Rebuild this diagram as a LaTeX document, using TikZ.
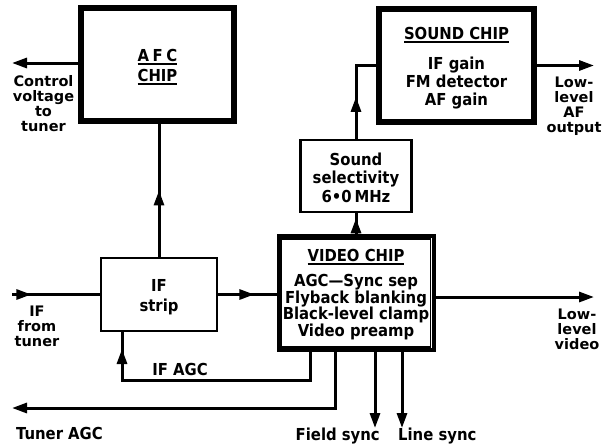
\documentclass[tikz,border=0pt]{standalone}
\usepackage{fontspec}
\setmainfont{DejaVu Sans Condensed}
\newfontfamily\widefont{DejaVu Sans}
\usetikzlibrary{arrows.meta,decorations.markings,calc}
\newcommand{\ulx}[1]{\leavevmode\setbox0=\hbox{#1}\rlap{\rule[-3.8pt]{\wd0}{1.8pt}}\box0}
\newcommand{\pushdn}[1]{\rule{0pt}{#1}}
\begin{document}
\begin{tikzpicture}[x=1pt,y=-1pt,
  font=\bfseries\fontsize{16.5}{18}\selectfont,
  conn/.style={line width=3pt},
  tip/.style={-{Triangle[length=15pt,width=10pt]}},
  midarr/.style={postaction={decorate},decoration={markings,mark=at position #1 with {\arrow{Triangle[length=15pt,width=10pt]}}}},
  plainbox/.style={draw,line width=2.2pt,align=center,inner sep=0pt},
  chip/.style={draw,line width=4pt,align=center,inner sep=0pt},
  lbl/.style={align=center,inner sep=0pt},
  tight/.style={font=\widefont\bfseries\fontsize{14.5}{15}\selectfont}
]
\useasboundingbox[fill=white] (0,0) rectangle (610,445);

% blocks
\node[chip,minimum width=155pt,minimum height=115pt] (afc) at (157.5,64.5)
  {\pushdn{17pt}\ulx{A\kern3.5pt F\kern3.5pt C}\\[2pt]\ulx{CHIP}};
\node[chip,minimum width=157pt,minimum height=115pt] (sound) at (456.5,65.5)
  {\pushdn{17.5pt}\ulx{SOUND CHIP}\\[12pt]IF gain\\FM detector\\AF gain};
\node[chip,minimum width=155pt,minimum height=114pt] (video) at (356,293)
  {\pushdn{15.5pt}\ulx{VIDEO CHIP}\\[7pt]AGC—Sync sep\\[-1.3pt]Flyback blanking\\[-1.3pt]Black-level clamp\\[-1.3pt]Video preamp};
\node[plainbox,minimum width=116pt,minimum height=73pt] (ifstrip) at (159,294.5)
  {\pushdn{17pt}IF\\[2pt]strip};
\node[plainbox,minimum width=111pt,minimum height=72pt] (soundsel) at (356,176)
  {\pushdn{16pt}Sound\\[0.5pt]selectivity\\[0.5pt]6•0\,MHz};

\foreach \n in {afc,sound,video}
  \draw[line width=1.1pt] ($(\n.south west)+(5,-5)$) rectangle ($(\n.north east)+(-5,5)$);

% labels
\node[lbl,tight] (ctrltxt) at (43.5,104) {Control\\voltage\\to\\tuner};
\node[lbl,tight] (iftxt) at (37,326) {IF\\from\\tuner};
\node[lbl,tight] (aftxt) at (574,106.5) {Low-\\level\\AF\\output};
\node[lbl,tight] (vidtxt) at (577,329) {Low-\\level\\video};
\node[lbl] (ifagctxt) at (180,369) {IF AGC};
\node[lbl,anchor=west] (tagctxt) at (16,433) {Tuner AGC};
\node[lbl,anchor=east] (fstxt) at (380,436) {Field sync};
\node[lbl,anchor=west] (lstxt) at (398,436) {Line sync};

% coordinates
\coordinate (ifin) at (12,294.5);
\coordinate (ctrl) at (12,63);
\coordinate (afout) at (594,65.5);
\coordinate (vidout) at (594,297);
\coordinate (agc1) at (310,380);
\coordinate (agc2) at (122,380);
\coordinate (tagc) at (335,408);
\coordinate (tagcend) at (12,408);
\coordinate (fs) at (375,428);
\coordinate (ls) at (402,428);

% connectors
\draw[conn,midarr=0.22] (ifin) -- (ifstrip.west);
\draw[conn,midarr=0.62] (ifstrip.east) -- (ifstrip.east -| video.west);
\draw[conn,midarr=0.5] (ifstrip.north) -- (ifstrip.north |- afc.south);
\draw[conn,tip] (ctrl -| afc.west) -- (ctrl);
\draw[conn,midarr=0.75] (video.north) -- (soundsel.south);
\draw[conn,midarr=42pt] (soundsel.north) |- (sound.west);
\draw[conn,tip] (sound.east) -- (afout);
\draw[conn,tip] (vidout -| video.east) -- (vidout);
\draw[conn,midarr=247pt] (agc1 |- video.south) -- (agc1) -- (agc2) -- (agc2 |- ifstrip.south);
\draw[conn,tip] (tagc |- video.south) -- (tagc) -- (tagcend);
\draw[conn,tip] (fs |- video.south) -- (fs);
\draw[conn,tip] (ls |- video.south) -- (ls);
\end{tikzpicture}
\end{document}
